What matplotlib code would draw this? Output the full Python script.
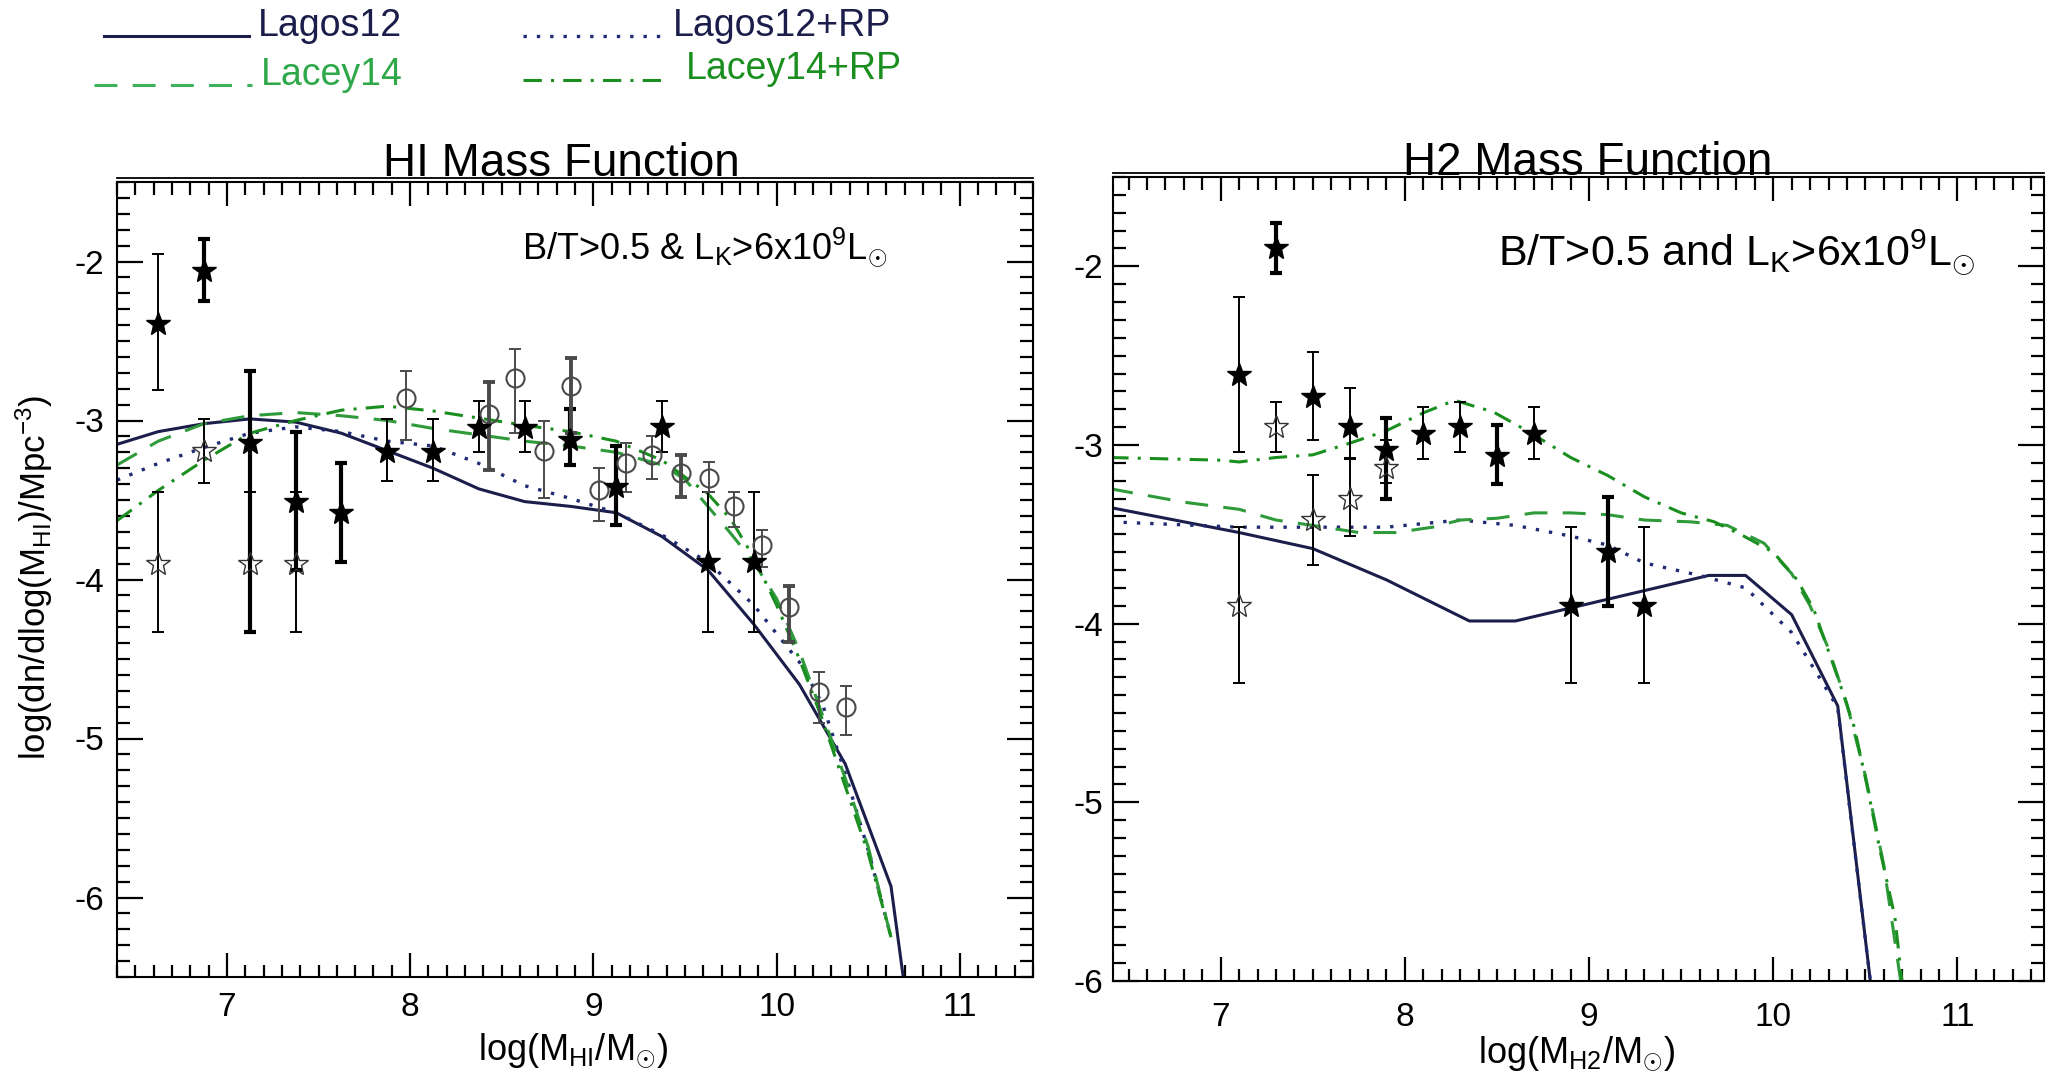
import numpy as np
import matplotlib.pyplot as plt
from matplotlib.ticker import MultipleLocator
from matplotlib.lines import Line2D

plt.rcParams['font.family'] = ['Liberation Sans', 'DejaVu Sans']
plt.rcParams['mathtext.fontset'] = 'custom'
plt.rcParams['mathtext.rm'] = 'Liberation Sans'
plt.rcParams['mathtext.it'] = 'Liberation Sans:italic'
plt.rcParams['mathtext.bf'] = 'Liberation Sans:bold'
plt.rcParams['axes.unicode_minus'] = False

# ---------------- HI mass function: models ----------------
hi_lagos_x = [6.40, 6.625, 6.875, 7.125, 7.375, 7.625, 7.875, 8.125, 8.375, 8.625,
              8.875, 9.125, 9.375, 9.625, 9.875, 10.125, 10.375, 10.625, 10.75]
hi_lagos_y = [-3.15, -3.07, -3.02, -2.99, -3.01, -3.08, -3.19, -3.30, -3.43, -3.51,
              -3.54, -3.58, -3.73, -3.94, -4.28, -4.66, -5.16, -5.93, -7.0]

hi_lagosrp_x = [6.40, 6.625, 6.875, 7.125, 7.375, 7.625, 7.875, 8.125, 8.375, 8.625,
                8.875, 9.125, 9.375, 9.625, 9.875, 10.125, 10.25, 10.375, 10.5, 10.625]
hi_lagosrp_y = [-3.375, -3.27, -3.17, -3.08, -3.04, -3.07, -3.13, -3.16, -3.27, -3.41,
                -3.49, -3.58, -3.72, -3.89, -4.16, -4.52, -4.78, -5.22, -5.70, -6.25]

hi_lacey_x = [6.40, 6.625, 6.875, 7.125, 7.375, 7.625, 7.875, 8.125, 8.375, 8.625,
              8.875, 9.125, 9.375, 9.5, 9.625, 9.75, 9.875, 10.0, 10.125, 10.25,
              10.375, 10.5, 10.625]
hi_lacey_y = [-3.28, -3.13, -3.02, -2.97, -2.95, -2.97, -3.00, -3.05, -3.09, -3.13,
              -3.16, -3.20, -3.28, -3.37, -3.54, -3.71, -3.89, -4.12, -4.45, -4.85,
              -5.25, -5.68, -6.25]

hi_laceyrp_x = [6.40, 6.625, 6.875, 7.125, 7.375, 7.625, 7.875, 8.125, 8.375, 8.625,
                8.875, 9.125, 9.375, 9.625, 9.75, 9.875, 10.0, 10.125, 10.25, 10.375,
                10.5, 10.625]
hi_laceyrp_y = [-3.63, -3.44, -3.25, -3.08, -3.00, -2.935, -2.91, -2.94, -2.985, -3.03,
                -3.07, -3.13, -3.25, -3.46, -3.62, -3.86, -4.16, -4.50, -4.88, -5.30,
                -5.72, -6.25]

# ---------------- HI mass function: observations ----------------
hi_star_x = [6.625, 7.875, 8.125, 8.375, 8.625, 9.375, 9.625, 9.875]
hi_star_y = [-2.39, -3.20, -3.20, -3.05, -3.05, -3.04, -3.89, -3.89]
hi_star_hi = [-1.95, -2.99, -2.99, -2.88, -2.88, -2.88, -3.45, -3.45]
hi_star_lo = [-2.81, -3.38, -3.38, -3.20, -3.20, -3.20, -4.33, -4.33]

hi_star2_x = [6.875, 7.125, 7.375, 7.625, 8.875, 9.125]
hi_star2_y = [-2.06, -3.14, -3.51, -3.58, -3.12, -3.42]
hi_star2_hi = [-1.86, -2.69, -3.07, -3.27, -2.93, -3.16]
hi_star2_lo = [-2.25, -4.33, -3.94, -3.89, -3.28, -3.66]

hi_open_x = [6.625, 6.875, 7.125, 7.375]
hi_open_y = [-3.90, -3.19, -3.90, -3.90]
hi_open_hi = [-3.45, -2.99, -3.45, -3.45]
hi_open_lo = [-4.33, -3.39, -4.33, -4.33]

hi_circ_x = [7.98, 8.57, 8.73, 9.03, 9.18, 9.32, 9.63, 9.77, 9.92, 10.23, 10.38]
hi_circ_y = [-2.86, -2.73, -3.19, -3.44, -3.27, -3.22, -3.36, -3.54, -3.78, -4.71, -4.80]
hi_circ_hi = [-2.69, -2.55, -3.00, -3.30, -3.14, -3.10, -3.26, -3.45, -3.69, -4.58, -4.67]
hi_circ_lo = [-3.12, -3.08, -3.49, -3.63, -3.45, -3.37, -3.45, -3.67, -3.92, -4.90, -4.98]

hi_circ2_x = [8.43, 8.88, 9.48, 10.07]
hi_circ2_y = [-2.96, -2.78, -3.33, -4.17]
hi_circ2_hi = [-2.76, -2.61, -3.22, -4.04]
hi_circ2_lo = [-3.31, -3.08, -3.48, -4.39]

# ---------------- H2 mass function: models ----------------
h2_lagos_x = [6.40, 7.10, 7.50, 7.90, 8.35, 8.60, 9.65, 9.85, 10.10, 10.35, 10.55]
h2_lagos_y = [-3.35, -3.49, -3.58, -3.755, -3.985, -3.985, -3.73, -3.73, -3.95, -4.46, -6.2]

h2_lagosrp_x = [6.40, 7.10, 7.50, 7.90, 8.30, 8.60, 8.90, 9.10, 9.30, 9.60, 9.85,
                10.10, 10.25, 10.35, 10.55]
h2_lagosrp_y = [-3.43, -3.46, -3.46, -3.46, -3.42, -3.45, -3.51, -3.56, -3.66, -3.73, -3.80,
                -4.05, -4.30, -4.47, -6.2]

h2_lacey_x = [6.40, 6.80, 7.10, 7.30, 7.50, 7.75, 7.95, 8.15, 8.30, 8.50, 8.70, 8.90,
              9.10, 9.30, 9.55, 9.75, 9.95, 10.10, 10.20, 10.30, 10.40, 10.50, 10.60, 10.72]
h2_lacey_y = [-3.245, -3.32, -3.36, -3.42, -3.45, -3.49, -3.49, -3.46, -3.42, -3.41, -3.38, -3.38,
              -3.39, -3.42, -3.43, -3.45, -3.55, -3.72, -3.90, -4.14, -4.45, -4.85, -5.35, -6.2]

h2_laceyrp_x = [6.40, 7.00, 7.10, 7.30, 7.50, 7.70, 7.90, 8.10, 8.27, 8.48, 8.68, 8.90,
                9.10, 9.30, 9.50, 9.68, 9.84, 10.00, 10.13, 10.22, 10.35, 10.44, 10.51,
                10.58, 10.66, 10.72]
h2_laceyrp_y = [-3.07, -3.085, -3.095, -3.07, -3.055, -2.99, -2.92, -2.82, -2.75, -2.815, -2.93, -3.07,
                -3.17, -3.29, -3.38, -3.43, -3.51, -3.60, -3.755, -3.92, -4.30, -4.58, -4.91,
                -5.27, -5.64, -6.2]

# ---------------- H2 mass function: observations ----------------
h2_star_x = [7.1, 7.5, 7.7, 8.1, 8.3, 8.7, 8.9, 9.3]
h2_star_y = [-2.61, -2.73, -2.90, -2.94, -2.90, -2.94, -3.90, -3.90]
h2_star_hi = [-2.17, -2.48, -2.68, -2.79, -2.76, -2.79, -3.46, -3.46]
h2_star_lo = [-3.04, -2.97, -3.07, -3.08, -3.04, -3.08, -4.33, -4.33]

h2_star2_x = [7.3, 7.9, 8.5, 9.1]
h2_star2_y = [-1.90, -3.03, -3.06, -3.60]
h2_star2_hi = [-1.76, -2.85, -2.89, -3.29]
h2_star2_lo = [-2.04, -3.30, -3.22, -3.90]

h2_open_x = [7.1, 7.3, 7.5, 7.7, 7.9]
h2_open_y = [-3.90, -2.90, -3.42, -3.30, -3.13]
h2_open_hi = [-3.46, -2.76, -3.17, -3.08, -2.97]
h2_open_lo = [-4.33, -3.04, -3.67, -3.51, -3.21]

legend_labels = ['Lagos12', 'Lagos12+RP', 'Lacey14', 'Lacey14+RP']

# ---------------- styles ----------------
NAVY = '#1b1e4b'
NAVY_DOT = '#1f2a72'
GREEN = '#2e9a3a'
GREEN_DD = '#1a8f1f'
GREY = '#4a4a4a'

st_solid = dict(color=NAVY, lw=2.2, ls='-')
st_dot = dict(color=NAVY_DOT, lw=2.4, ls=(0, (1, 3)))
st_dash = dict(color=GREEN, lw=2.2, ls=(0, (7.5, 5)))
st_dd = dict(color=GREEN_DD, lw=2.2, ls=(0, (6, 3, 1, 3)))

W, H = 2046, 1083
fig = plt.figure(figsize=(W / 100, H / 100), dpi=100)


def px_axes(x0, y0, x1, y1):
    return fig.add_axes([x0 / W, 1 - y1 / H, (x1 - x0) / W, (y1 - y0) / H])


def err(ax, x, y, hi, lo, color, lw, cap):
    y = np.array(y)
    ax.errorbar(x, y, yerr=[y - np.array(lo), np.array(hi) - y], fmt='none',
                ecolor=color, elinewidth=lw, capsize=cap, capthick=lw, zorder=3)


def style_axes(ax, xlim, ylim, xpad, ypad):
    ax.set_xlim(*xlim)
    ax.set_ylim(*ylim)
    ax.set_xticks([7, 8, 9, 10, 11])
    ax.set_yticks([-6, -5, -4, -3, -2])
    ax.xaxis.set_minor_locator(MultipleLocator(0.1))
    ax.yaxis.set_minor_locator(MultipleLocator(0.1))
    ax.tick_params(which='both', direction='in', top=True, right=True, width=1.6,
                   labelsize=24)
    ax.tick_params(axis='x', which='major', length=17, pad=xpad)
    ax.tick_params(axis='y', which='major', length=19, pad=ypad)
    ax.tick_params(axis='x', which='minor', length=9)
    ax.tick_params(axis='y', which='minor', length=9.5)
    for s in ax.spines.values():
        s.set_linewidth(1.5)
    # doubled top frame line
    ax.plot([0, 1], [1.005, 1.005], transform=ax.transAxes, color='k', lw=1.3,
            clip_on=False)


def draw_panel(ax, models, stars, stars2, opens, circs=None, circs2=None):
    for (x, y), st in zip(models, [st_solid, st_dot, st_dash, st_dd]):
        ax.plot(x, y, zorder=2, **st)
    err(ax, *stars, 'k', 1.4, 4)
    err(ax, *stars2, 'k', 3.0, 4)
    err(ax, *opens, 'k', 1.4, 4)
    if circs is not None:
        err(ax, *circs, GREY, 1.4, 4)
        err(ax, *circs2, GREY, 2.8, 4)
        ax.plot(circs[0], circs[1], 'o', ms=13, mfc='none', mec=GREY, mew=1.5, zorder=4)
        ax.plot(circs2[0], circs2[1], 'o', ms=13, mfc='none', mec=GREY, mew=1.5, zorder=4)
    ax.plot(stars[0], stars[1], '*', ms=18, color='k', zorder=5)
    ax.plot(stars2[0], stars2[1], '*', ms=18, color='k', zorder=5)
    ax.plot(opens[0], opens[1], '*', ms=18, mfc='none', mec='#333333', mew=1.0, zorder=5)


# ---------------- HI panel ----------------
ax1 = px_axes(117, 182, 1033, 977)
draw_panel(ax1,
           [(hi_lagos_x, hi_lagos_y), (hi_lagosrp_x, hi_lagosrp_y),
            (hi_lacey_x, hi_lacey_y), (hi_laceyrp_x, hi_laceyrp_y)],
           (hi_star_x, hi_star_y, hi_star_hi, hi_star_lo),
           (hi_star2_x, hi_star2_y, hi_star2_hi, hi_star2_lo),
           (hi_open_x, hi_open_y, hi_open_hi, hi_open_lo),
           (hi_circ_x, hi_circ_y, hi_circ_hi, hi_circ_lo),
           (hi_circ2_x, hi_circ2_y, hi_circ2_hi, hi_circ2_lo))
style_axes(ax1, (6.4, 11.4), (-6.5, -1.5), 11, 9)
ax1.text(0.485, 1.0075, 'HI Mass Function', transform=ax1.transAxes, ha='center',
         va='baseline', fontsize=33)
ax1.text(0.442, 0.903, r'B/T>0.5 & L$_\mathrm{K}$>6x10$^\mathrm{9}$L$_{\odot}$',
         transform=ax1.transAxes, ha='left', va='baseline', fontsize=26)
ax1.text(0.498, -0.104, r'log(M$_\mathrm{HI}$/M$_{\odot}$)', transform=ax1.transAxes,
         ha='center', va='baseline', fontsize=26)
fig.text(34 / W, 1 - 577 / H, r'log(dn/dlog(M$_\mathrm{HI}$)/Mpc$^\mathrm{-3}$)',
         rotation=90, ha='center', va='center', fontsize=25)

# ---------------- H2 panel ----------------
ax2 = px_axes(1113, 177, 2044, 981)
draw_panel(ax2,
           [(h2_lagos_x, h2_lagos_y), (h2_lagosrp_x, h2_lagosrp_y),
            (h2_lacey_x, h2_lacey_y), (h2_laceyrp_x, h2_laceyrp_y)],
           (h2_star_x, h2_star_y, h2_star_hi, h2_star_lo),
           (h2_star2_x, h2_star2_y, h2_star2_hi, h2_star2_lo),
           (h2_open_x, h2_open_y, h2_open_hi, h2_open_lo))
style_axes(ax2, (6.415, 11.47), (-6.0, -1.5), 15, 7)
ax2.text(0.510, 1.0025, 'H2 Mass Function', transform=ax2.transAxes, ha='center',
         va='baseline', fontsize=33)
ax2.text(0.4135, 0.889, r'B/T>0.5 and L$_\mathrm{K}$>6x10$^\mathrm{9}$L$_{\odot}$',
         transform=ax2.transAxes, ha='left', va='baseline', fontsize=31)
ax2.text(0.498, -0.102, r'log(M$_\mathrm{H2}$/M$_{\odot}$)', transform=ax2.transAxes,
         ha='center', va='baseline', fontsize=26)

# ---------------- legend at the top ----------------
leg_lines = [((104, 249), 36, st_solid, NAVY, (258, 36)),
             ((523, 666), 36, st_dot, NAVY, (673, 36)),
             ((94, 252), 85, dict(st_dash, color='#3cb35a'), '#2ea848', (261, 85)),
             ((523, 668), 80, st_dd, GREEN_DD, (686, 79))]
for label, ((xa, xb), yl, st, tc, (tx, ty)) in zip(legend_labels, leg_lines):
    fig.add_artist(Line2D([xa / W, xb / W], [1 - yl / H, 1 - yl / H],
                          transform=fig.transFigure, **st))
    fig.text(tx / W, 1 - ty / H, label, color=tc, fontsize=27, ha='left', va='baseline')

fig.savefig('out.png', dpi=100)
